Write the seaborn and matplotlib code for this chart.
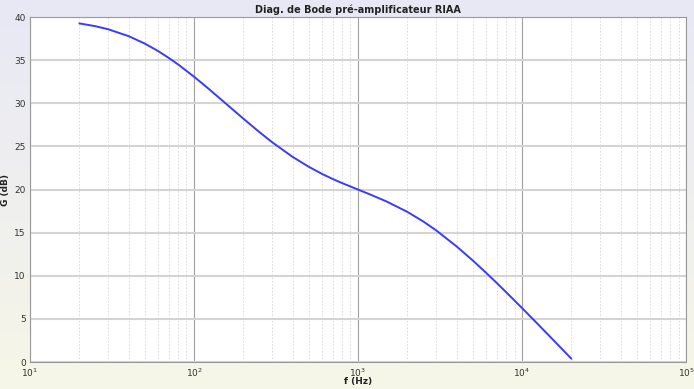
import numpy as np
import pandas as pd
import seaborn as sns
import matplotlib.pyplot as plt
from matplotlib.colors import LinearSegmentedColormap

# gain (dB), at these frequencies (Hz)
freq = [20, 25, 30, 40, 50, 60, 70, 80, 100, 120, 150, 200, 250, 300, 400,
        500, 600, 700, 800, 1000, 1200, 1500, 2000, 2500, 3000, 4000, 5000,
        6000, 7000, 8000, 10000, 12000, 15000, 20000]
gain = [39.27, 38.95, 38.59, 37.79, 36.94, 36.10, 35.28, 34.51, 33.09, 31.85,
        30.27, 28.22, 26.68, 25.48, 23.78, 22.65, 21.84, 21.23, 20.75, 20.00,
        19.39, 18.60, 17.41, 16.30, 15.26, 13.39, 11.79, 10.40, 9.18, 8.10,
        6.26, 4.73, 2.84, 0.38]

df = pd.DataFrame({"f": freq, "G": gain})

sns.set_style("white")
plt.rcParams['font.family'] = ['DejaVu Sans']

fig = plt.figure(figsize=(6.94, 3.89), dpi=100)

# gradient background like the matlab window
bg = fig.add_axes([0, 0, 1, 1], zorder=-10)
cmap = LinearSegmentedColormap.from_list("bg", ["#e8e8f6", "#f6f6e8"])
bg.imshow(np.linspace(0, 1, 256).reshape(-1, 1), aspect="auto", cmap=cmap,
          extent=[0, 1, 0, 1])
bg.axis("off")

ax = fig.add_axes([0.0432, 0.0694, 0.9453, 0.8866])
sns.lineplot(data=df, x="f", y="G", ax=ax, color="#3a3aff", lw=1.4)

ax.set_xscale("log")
ax.set_xlim(10, 1e5)
ax.set_ylim(0, 40)
ax.set_yticks(range(0, 41, 5))

ax.grid(True, which="major", axis="y", color="#d4d4d4", lw=1.5, ls="-")
ax.grid(True, which="major", axis="x", color="#a0a0a0", lw=0.8, ls="-")
ax.grid(True, which="minor", axis="x", color="#d8d8d8", lw=0.6, ls=(0, (2, 2)))
ax.set_axisbelow(True)

for s in ax.spines.values():
    s.set_color("#9a9a9a")
    s.set_linewidth(0.8)

ax.tick_params(which="both", length=0, labelsize=6.5, colors="#333333", pad=3)
ax.set_title("Diag. de Bode pré-amplificateur RIAA", fontsize=7, fontweight="bold",
             color="#222222", pad=3)
ax.set_xlabel("f (Hz)", fontsize=6.5, fontweight="bold", color="#222222")
ax.set_ylabel("G (dB)", fontsize=6.5, fontweight="bold", color="#222222")
ax.xaxis.set_label_coords(0.5, -0.044)
ax.yaxis.set_label_coords(-0.031, 0.5)

fig.savefig("out.png", dpi=100)
